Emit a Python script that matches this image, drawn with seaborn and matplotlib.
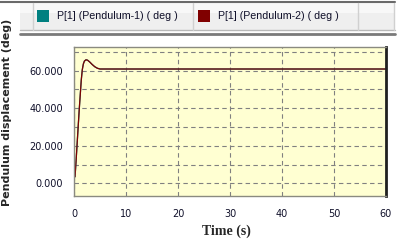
import numpy as np
import pandas as pd
import matplotlib
matplotlib.use("Agg")
import matplotlib.pyplot as plt
import seaborn as sns
from matplotlib.patches import Rectangle
from matplotlib.ticker import MultipleLocator, FormatStrFormatter

# data
time_s = [0.2, 0.4, 0.6, 0.8, 1.0, 1.2, 1.4, 1.6, 1.8, 2.0, 2.3, 2.6, 3.0, 3.5, 4.0, 4.5, 5.0, 60.0]
p1_pend1 = [3.5, 12, 21, 30, 39, 47, 55, 60.5, 63.5, 65.0, 65.7, 65.5, 64.6, 63.2, 62.0, 61.2, 60.8, 60.8]
p1_pend2 = [3.5, 12, 21, 30, 39, 47, 55, 60.5, 63.5, 65.0, 65.7, 65.5, 64.6, 63.2, 62.0, 61.2, 60.8, 60.8]
series_names = ["P[1] (Pendulum-1) ( deg )", "P[1] (Pendulum-2) ( deg )"]
series_colors = ["#008080", "#800000"]
x_ticks = [0, 10, 20, 30, 40, 50, 60]
y_ticks = [0, 20, 40, 60]

sns.set_style("white")
plt.rcParams['font.family'] = ['DejaVu Sans']

W, H = 399, 243
fig = plt.figure(figsize=(W / 100, H / 100), dpi=100)
fig.patch.set_facecolor("white")

L, R, T, B = 74, 386, 47, 196
ax = fig.add_axes([L / W, 1 - B / H, (R - L) / W, (B - T) / H])
ax.set_facecolor("#FFFFD2")

sns.lineplot(x=time_s, y=p1_pend1, ax=ax, color=series_colors[0], lw=0.9)
sns.lineplot(x=time_s, y=p1_pend2, ax=ax, color=series_colors[1], lw=0.9)

ax.set_xlim(0, 60)
ax.set_ylim(-6.7, 72.5)
ax.set_xticks(x_ticks)
ax.set_yticks(y_ticks)
ax.yaxis.set_minor_locator(MultipleLocator(10))
ax.yaxis.set_major_formatter(FormatStrFormatter("%.3f"))
ax.grid(True, which="both", color="#808080", ls=(0, (4, 3)), lw=0.8)
ax.set_axisbelow(True)
ax.tick_params(which="both", length=0)
ax.tick_params(axis="y", pad=8, labelsize=7, labelcolor="#10102a")
ax.tick_params(axis="x", pad=9, labelsize=7, labelcolor="#10102a")

for s in ["left", "top", "bottom"]:
    ax.spines[s].set_color("#8a8a80")
    ax.spines[s].set_linewidth(1)
ax.spines["right"].set_color("#202020")
ax.spines["right"].set_linewidth(2)

ax.set_ylabel("Pendulum displacement (deg)", fontsize=8, fontweight="bold")
ax.yaxis.set_label_coords(-(L - 12) / (R - L), (B - 112) / (B - T))
ax.set_xlabel("Time (s)", fontsize=10, fontweight="bold", family="Liberation Serif")
ax.xaxis.set_label_coords(0.49, -(231 - B) / (B - T))
ax.xaxis.label.set_va("center")

# legend bar on top, drawn in pixel coordinates
lg = fig.add_axes([0, 1 - 36 / H, 1, 36 / H])
lg.set_xlim(0, W)
lg.set_ylim(36, 0)
lg.axis("off")
lg.patch.set_alpha(0)
lg.add_patch(Rectangle((20, 3), 375, 10, color="#F8F8F8", lw=0))
lg.add_patch(Rectangle((20, 13), 375, 17, color="#EFEFEF", lw=0))
lg.plot([0, 395], [2.5, 2.5], color="#6a6a6a", lw=1.5)
lg.plot([20, 395], [30.5, 30.5], color="#b8b8b8", lw=1)
lg.plot([20, 395], [34, 34], color="#7a7a7a", lw=2)
for sx in [33, 193, 358, 394]:
    lg.plot([sx, sx], [3, 30], color="#d0d0d0", lw=1)

for i, (name, col) in enumerate(zip(series_names, series_colors)):
    x0 = 37 + i * 161
    lg.add_patch(Rectangle((x0, 10), 12, 12, color=col, lw=0))
    lg.text(x0 + 20, 16, name, fontsize=7.7, family="Liberation Sans",
            color="#10102a", va="center", ha="left")

fig.savefig("out.png", dpi=100)
